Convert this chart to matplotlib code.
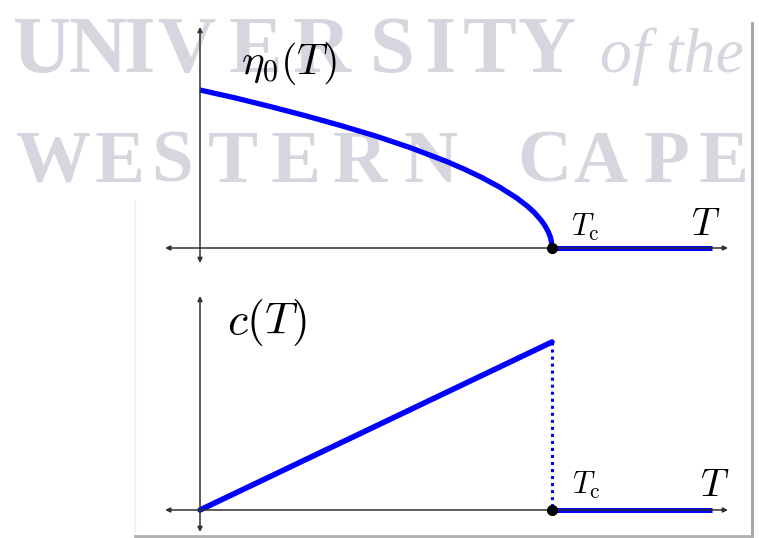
import numpy as np
import matplotlib.pyplot as plt
from matplotlib.lines import Line2D
from matplotlib.patches import Rectangle

plt.rcParams['mathtext.fontset'] = 'cm'

# Order parameter below Tc (units: Tc = 1, eta0(0) = 1)
T_eta = [0.0, 0.1, 0.2, 0.3, 0.4, 0.5, 0.6, 0.7, 0.75, 0.8, 0.85, 0.9,
         0.93, 0.95, 0.97, 0.98, 0.99, 0.995, 0.998, 1.0]
eta0 = [1.0, 0.95, 0.895, 0.837, 0.775, 0.708, 0.633, 0.548, 0.50, 0.447, 0.387, 0.316,
        0.265, 0.224, 0.173, 0.141, 0.10, 0.071, 0.045, 0.0]

# Heat capacity: linear rise up to Tc, then jump to zero
T_c = [0.0, 1.0]
c_T = [0.0, 1.0]

# Above Tc both vanish
T_high = [1.0, 1.455]
zero_high = [0.0, 0.0]

W, H = 759, 538
fig = plt.figure(figsize=(W / 100, H / 100), dpi=100)


def fx(px):
    return px / W


def fy(py):
    return 1 - py / H


# Watermark letters behind the plots
wm_color = '#d6d7de'
line1 = list('UNIVERSITY')
x1 = [42, 97, 139, 186, 255, 322, 392, 440, 490, 547]
line2 = list('WESTERNCAPE')
x2 = [53, 120, 172, 233, 296, 360, 431, 544, 600, 667, 724]
for ch, px in zip(line1, x1):
    fig.text(fx(px), fy(72), ch, ha='center', va='baseline', fontsize=58,
             family='Liberation Serif', weight='bold', color=wm_color, zorder=-3)
for ch, px in zip(line2, x2):
    fig.text(fx(px), fy(182), ch, ha='center', va='baseline', fontsize=54,
             family='Liberation Serif', weight='bold', color=wm_color, zorder=-3)
fig.text(fx(600), fy(72), 'of the', ha='left', va='baseline', fontsize=46,
         family='Liberation Serif', style='italic', color=wm_color, zorder=-3)

# slide frame on the right and bottom
fig.add_artist(Rectangle((fx(753), 0), 1 - fx(753), fy(23), transform=fig.transFigure,
                         facecolor='#fbfbfb', edgecolor='none', zorder=-2))
fig.add_artist(Line2D([fx(751.5), fx(751.5)], [fy(23), fy(536)], transform=fig.transFigure,
                      color='#a8a8a8', lw=2.2, zorder=1))
fig.add_artist(Line2D([fx(135), fx(752)], [fy(536), fy(536)], transform=fig.transFigure,
                      color='#b0b0b0', lw=2.0, zorder=1))
fig.add_artist(Line2D([fx(135), fx(135)], [fy(200), fy(536)], transform=fig.transFigure,
                      color='#eeeeee', lw=1.0, zorder=-2))

blue = '#0000ff'
axis_col = '#303030'
arrow = dict(arrowstyle='<|-|>', mutation_scale=7, lw=1.1, color=axis_col,
             shrinkA=0, shrinkB=0)

# ---- top panel: eta0(T) ----
ax1 = fig.add_axes([0, fy(270), 1, 270 / H])
ax1.set_xlim(-200 / 352, 559 / 352)
ax1.set_ylim(-(270 - 248) / 158, 248 / 158)
ax1.axis('off')

ax1.annotate('', xy=(1.5, 0), xytext=(-0.099, 0), arrowprops=arrow)
ax1.annotate('', xy=(0, 1.399), xytext=(0, -0.095), arrowprops=arrow)
ax1.plot(T_eta, eta0, color=blue, lw=3.8, solid_capstyle='butt', solid_joinstyle='round')
ax1.plot(T_high, zero_high, color=blue, lw=3.6, solid_capstyle='butt')
ax1.plot([1.0], [0.0], 'o', color='black', markersize=7, zorder=5)
ax1.text(0.253, 1.165, r'$\eta_0(T)$', fontsize=31, ha='center', va='center')
ax1.text(1.094, 0.133, r'$T_{\rm c}$', fontsize=22, ha='center', va='center')
ax1.text(1.4375, 0.152, r'$T$', fontsize=28, ha='center', va='center')

# ---- bottom panel: c(T) ----
ax2 = fig.add_axes([0, 0, 1, 268 / H])
ax2.set_xlim(-200 / 352, 559 / 352)
ax2.set_ylim(-(538 - 510) / 168, 240 / 168)
ax2.axis('off')

ax2.annotate('', xy=(1.5, 0), xytext=(-0.099, 0), arrowprops=arrow)
ax2.annotate('', xy=(0, 1.274), xytext=(0, -0.131), arrowprops=arrow)
ax2.plot(T_c, c_T, color=blue, lw=4.0, solid_capstyle='round')
ax2.plot([T_c[-1], T_c[-1]], [c_T[-1], 0], color=blue, lw=2.2, linestyle=(0, (1, 1.3)))
ax2.plot(T_high, zero_high, color=blue, lw=3.6, solid_capstyle='butt')
ax2.plot([1.0], [0.0], 'o', color='black', markersize=7, zorder=5)
ax2.text(0.19, 1.119, r'$c(T)$', fontsize=33, ha='center', va='center')
ax2.text(1.099, 0.149, r'$T_{\rm c}$', fontsize=22, ha='center', va='center')
ax2.text(1.463, 0.149, r'$T$', fontsize=28, ha='center', va='center')

plt.savefig('out.png', dpi=100)
